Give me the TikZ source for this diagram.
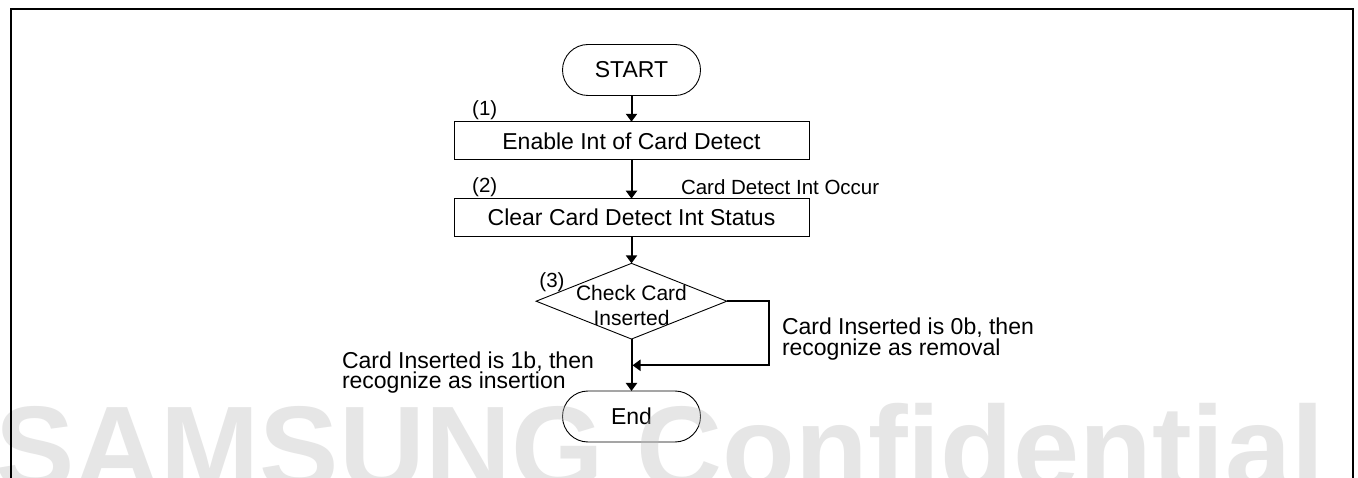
\documentclass[tikz,border=0pt]{standalone}
\usepackage{fontspec}
\setmainfont{Liberation Sans}
\usetikzlibrary{shapes.geometric,arrows.meta}
\begin{document}
\begin{tikzpicture}[x=1pt,y=-1pt,
  every node/.style={inner sep=0pt, outer sep=0pt},
  term/.style={draw, line width=0.9pt, rounded corners=25.5pt, minimum width=138pt, minimum height=51pt, font=\fontsize{23}{26}\selectfont},
  procbox/.style={draw, line width=1pt, minimum width=355pt, minimum height=38pt, font=\fontsize{23}{26}\selectfont},
  decision/.style={draw, diamond, line width=0.9pt, minimum width=190.7pt, minimum height=75.7pt},
  note/.style={font={\fontsize{23}{20.5}\selectfont\lineskiplimit=-20pt}, align=left},
  small/.style={font=\fontsize{20.5}{24}\selectfont},
  conn/.style={line width=2pt, -{Triangle[width=11pt,length=8pt]}},
  wm/.style={font=\fontsize{119}{130}\selectfont\bfseries, text={rgb,255:red,188;green,188;blue,188}, text opacity=0.37}
]
\useasboundingbox (0,0) rectangle (1358,478);
\begin{scope}
\clip (0,0) rectangle (1358,478);
\fill[white] (0,0) rectangle (1358,478);
\node[term] (start) at (631.5,70) {START};
\node[procbox] (b1) at (631.5,140.8) {Enable Int of Card Detect};
\node[procbox] (b2) at (631.5,217.7) {Clear Card Detect Int Status};
\node[decision] (d) at (631.5,301.2) {};
\node[font=\fontsize{21}{25}\selectfont, align=center] (dt) at (631.5,305) {Check Card\\Inserted};
\node[term] (end) at (631.5,416.5) {End};
\node[small] (l1) at (484.7,110) {(1)};
\node[small] (l2) at (484.7,187) {(2)};
\node[small] (l3) at (552,281.7) {(3)};
\node[small, anchor=west] (occ) at (681,187.5) {Card Detect Int Occur};
\node[note, anchor=west] (ins) at (342,372.5) {Card Inserted is 1b, then\\recognize as insertion};
\node[note, anchor=west] (rem) at (782,339) {Card Inserted is 0b, then\\recognize as removal};
\coordinate (j) at (632.5,365.3);
\draw[conn] (start) -- (b1);
\draw[conn] (b1) -- (b2);
\draw[conn] (b2) -- (d);
\draw[conn] (d) -- (end);
\draw[conn] (d.east) -- ++(42.3,0) |- (j);
\node[wm, anchor=base west] (wm) at (-4.5,489) {SAMSUNG Confidential};
\draw[line width=2pt] (11,490) -- (11,9) -- (1353,9) -- (1353,490);
\end{scope}
\end{tikzpicture}
\end{document}
